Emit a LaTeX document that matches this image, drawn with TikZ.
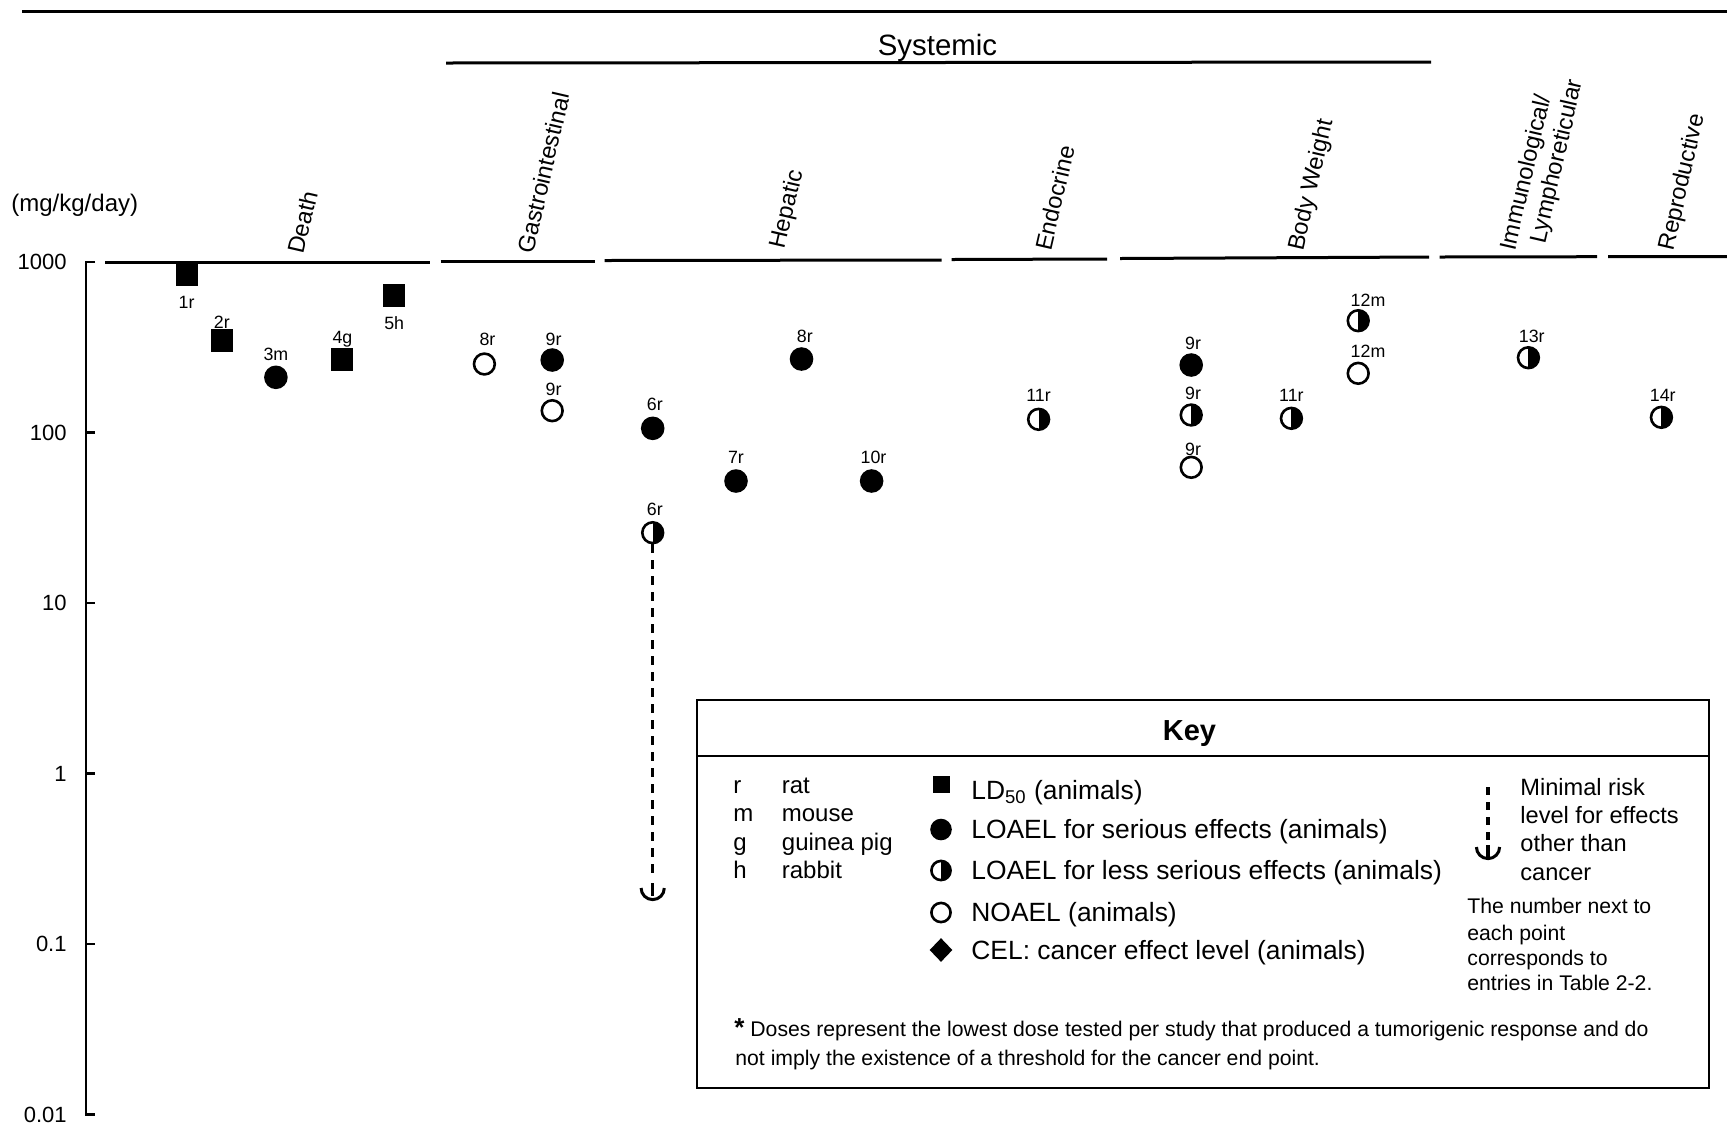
\documentclass[tikz,border=0pt]{standalone}
\usepackage{fontspec}
\setmainfont{Liberation Sans}
\usetikzlibrary{shapes.geometric,calc}
\tikzset{
  sq/.style={rectangle,fill=black,inner sep=0pt,minimum width=11pt,minimum height=11.5pt},
  fc/.style={circle,fill=black,inner sep=0pt,minimum size=11.8pt},
  oc/.style={circle,draw=black,fill=white,line width=1.3pt,inner sep=0pt,minimum size=10.4pt},
  hc/.style={oc,path picture={\fill[black] (path picture bounding box.north) rectangle (path picture bounding box.south east);}},
  ksq/.style={rectangle,fill=black,inner sep=0pt,minimum size=8.5pt},
  kfc/.style={circle,fill=black,inner sep=0pt,minimum size=10.8pt},
  koc/.style={oc,minimum size=9.6pt},
  khc/.style={hc,minimum size=9.6pt},
  kdia/.style={diamond,fill=black,inner sep=0pt,minimum width=11.5pt,minimum height=12pt},
  dose/.style={font=\fontsize{8.9}{9}\selectfont,inner sep=0pt,text height=6.4pt,text depth=0pt,anchor=center},
  cat/.style={font=\fontsize{11.8}{12}\selectfont,rotate=77,anchor=west,inner sep=0pt,text height=8.4pt,text depth=0pt},
  ticklab/.style={font=\fontsize{11}{12}\selectfont,anchor=east,inner sep=0pt},
  segline/.style={line width=1.5pt},
  axisline/.style={line width=1.1pt},
  mrldash/.style={line width=1.6pt,dash pattern=on 4.5pt off 3.5pt},
  ucup/.style={line width=1.5pt},
  keymid/.style={font=\fontsize{13.2}{14}\selectfont,anchor=base west,inner sep=0pt},
  keyleft/.style={font=\fontsize{12}{13}\selectfont,anchor=base west,inner sep=0pt},
  keyright/.style={font=\fontsize{11.8}{13}\selectfont,anchor=base west,inner sep=0pt},
  keynote/.style={font=\fontsize{10.6}{12}\selectfont,anchor=base west,inner sep=0pt},
}
\begin{document}
\begin{tikzpicture}[x=0.5pt,y=-0.5pt]
\useasboundingbox (0,0) rectangle (1727,1126);
\fill[white] (0,0) rectangle (1727,1126);

% top rules and Systemic heading
\draw[line width=1.5pt] (22,11) -- (1727,11);
\node[font=\fontsize{14.7}{16}\selectfont,anchor=base,inner sep=0pt] (systemic) at (937.5,55) {Systemic};
\draw[line width=1.5pt] (446,63) -- (1431,62);

% unit
\node[font=\fontsize{12}{13}\selectfont,anchor=base west,inner sep=0pt] (unit) at (11,211) {(mg/kg/day)};

% axis
\draw[axisline] (95,262) -- (86,262) -- (86,1114.5) -- (95,1114.5);
\foreach \yy in {432.5,603,773.5,944} \draw[axisline] (86,\yy) -- (95,\yy);
\node[ticklab] (t1000) at (67,262) {1000};
\node[ticklab] (t100) at (67,432.5) {100};
\node[ticklab] (t10) at (67,603) {10};
\node[ticklab] (t1) at (67,773.5) {1};
\node[ticklab] (t01) at (67,944) {0.1};
\node[ticklab] (t001) at (67,1114.5) {0.01};

% category rules
\draw[segline] (105,262) -- (429.5,262);
\draw[segline] (440.5,261.5) -- (594.5,261.5);
\draw[segline] (604.5,260.5) -- (941.5,260);
\draw[segline] (951.5,259.5) -- (1107,259);
\draw[segline] (1120,258.5) -- (1429,257);
\draw[segline] (1439.5,257) -- (1597,256.7);
\draw[segline] (1608,256.7) -- (1727,256.5);

% category labels
\node[cat] (cdeath) at (295.7,253.3) {Death};
\node[cat] (cgi) at (525,252.7) {Gastrointestinal};
\node[cat] (chep) at (776.7,248.3) {Hepatic};
\node[cat] (cendo) at (1043,250) {Endocrine};
\node[cat] (cbw) at (1295,250) {Body Weight};
\node[cat] (cimmA) at (1506.7,250) {Immunological/};
\node[cat] (cimmB) at (1536.7,242.7) {Lymphoreticular};
\node[cat] (crep) at (1665,250) {Reproductive};

% data markers
\node[sq] (m1) at (186.6,274) {};
\node[sq] (m2) at (221.9,340.7) {};
\node[fc] (m3) at (275.9,377.3) {};
\node[sq] (m4) at (342.4,359) {};
\node[sq] (m5) at (394.2,295.7) {};
\node[oc] (mg8) at (484.4,364) {};
\node[fc] (mg9a) at (552.2,360) {};
\node[oc] (mg9b) at (552.2,410.7) {};
\node[fc] (mh6a) at (652.7,428.3) {};
\node[hc] (mh6b) at (652.7,532.7) {};
\node[fc] (mh8) at (801.5,359) {};
\node[fc] (mh7) at (736,481) {};
\node[fc] (mh10) at (871.6,481) {};
\node[hc] (me11) at (1038.6,419.3) {};
\node[fc] (mb9a) at (1191.2,365) {};
\node[hc] (mb9b) at (1191.2,415) {};
\node[oc] (mb9c) at (1191.2,467.3) {};
\node[hc] (mb11) at (1291.4,418.3) {};
\node[hc] (mb12a) at (1358.2,320.7) {};
\node[oc] (mb12b) at (1358.2,373.3) {};
\node[hc] (mi13) at (1528.4,357.7) {};
\node[hc] (mr14) at (1661.4,417.3) {};

% dose labels
\node[dose] (l1) at (186.6,301.7) {1r};
\node[dose] (l2) at (221.9,321.7) {2r};
\node[dose] (l3) at (275.9,354) {3m};
\node[dose] (l4) at (342.4,336.7) {4g};
\node[dose] (l5) at (394.2,322.7) {5h};
\node[dose] (lg8) at (487.5,339.3) {8r};
\node[dose] (lg9a) at (553.6,339.3) {9r};
\node[dose] (lg9b) at (553.6,389) {9r};
\node[dose] (lh6a) at (654.9,404) {6r};
\node[dose] (lh6b) at (654.9,509.3) {6r};
\node[dose] (lh8) at (804.8,336) {8r};
\node[dose] (lh7) at (736,457.3) {7r};
\node[dose] (lh10) at (873.5,457.3) {10r};
\node[dose] (le11) at (1038.6,395) {11r};
\node[dose] (lb9a) at (1193.1,343.3) {9r};
\node[dose] (lb9b) at (1193.1,393.3) {9r};
\node[dose] (lb9c) at (1193.1,449.3) {9r};
\node[dose] (lb11) at (1291.4,395) {11r};
\node[dose] (lb12a) at (1368,300) {12m};
\node[dose] (lb12b) at (1368,350.7) {12m};
\node[dose] (li13) at (1531.7,336) {13r};
\node[dose] (lr14) at (1662.7,395) {14r};

% minimal risk level in the plot
\coordinate (mrlA) at (652.7,879);
\coordinate (uA) at (652.7,888);
\draw[mrldash] (mh6b.south) -- (mrlA);
\draw[ucup] ([xshift=-5.8pt]uA) arc[start angle=180,end angle=360,radius=5.8pt];
\draw[line width=1.6pt] ([yshift=2.5pt]uA) -- ([yshift=-4.2pt]uA);

% key box
\draw[line width=1.2pt] (697,700) rectangle (1709,1088);
\draw[line width=1.2pt] (697,756) -- (1709,756);
\node[font=\fontsize{14.5}{15}\selectfont\bfseries,anchor=base,inner sep=0pt] (keyt) at (1189.5,740) {Key};

% key: species
\node[keyleft] (kr) at (733,793) {r};
\node[keyleft] (krat) at (781.5,793) {rat};
\node[keyleft] (km) at (733,821.7) {m};
\node[keyleft] (kmouse) at (781.5,821.7) {mouse};
\node[keyleft] (kg) at (733,850) {g};
\node[keyleft] (kgp) at (781.5,850) {guinea pig};
\node[keyleft] (kh) at (733,878.3) {h};
\node[keyleft] (krab) at (781.5,878.3) {rabbit};

% key: symbols
\node[ksq] (ks1) at (941,784) {};
\node[keymid] (kt1) at (971,799) {LD\textsubscript{50} (animals)};
\node[kfc] (ks2) at (941,829.5) {};
\node[keymid] (kt2) at (971,838.6) {LOAEL for serious effects (animals)};
\node[khc] (ks3) at (941,870.5) {};
\node[keymid] (kt3) at (971,879.5) {LOAEL for less serious effects (animals)};
\node[koc] (ks4) at (941,912.5) {};
\node[keymid] (kt4) at (971,921.5) {NOAEL (animals)};
\node[kdia] (ks5) at (941,950) {};
\node[keymid] (kt5) at (971,959) {CEL: cancer effect level (animals)};

% key: MRL
\coordinate (mrlKtop) at (1488,787);
\coordinate (mrlK) at (1488,841);
\coordinate (uK) at (1488,847);
\draw[line width=1.6pt,dash pattern=on 4pt off 3.5pt] (mrlKtop) -- (mrlK);
\draw[ucup] ([xshift=-5.8pt]uK) arc[start angle=180,end angle=360,radius=5.8pt];
\draw[line width=1.6pt] ([yshift=1pt]uK) -- ([yshift=-4.8pt]uK);
\node[keyright] (km1) at (1520,795) {Minimal risk};
\node[keyright] (km2) at (1520,823.3) {level for effects};
\node[keyright] (km3) at (1520,851.7) {other than};
\node[keyright] (km4) at (1520,880) {cancer};
\node[keynote] (kn1) at (1467,913.3) {The number next to};
\node[keynote] (kn2) at (1467,940) {each point};
\node[keynote] (kn3) at (1467,965.5) {corresponds to};
\node[keynote] (kn4) at (1467,990.5) {entries in Table 2-2.};

% footnote
\node[keynote] (kf1) at (734,1036) {{\fontsize{13}{13}\selectfont\bfseries *} Doses represent the lowest dose tested per study that produced a tumorigenic response and do};
\node[keynote] (kf2) at (735,1065) {not imply the existence of a threshold for the cancer end point.};
\end{tikzpicture}
\end{document}
